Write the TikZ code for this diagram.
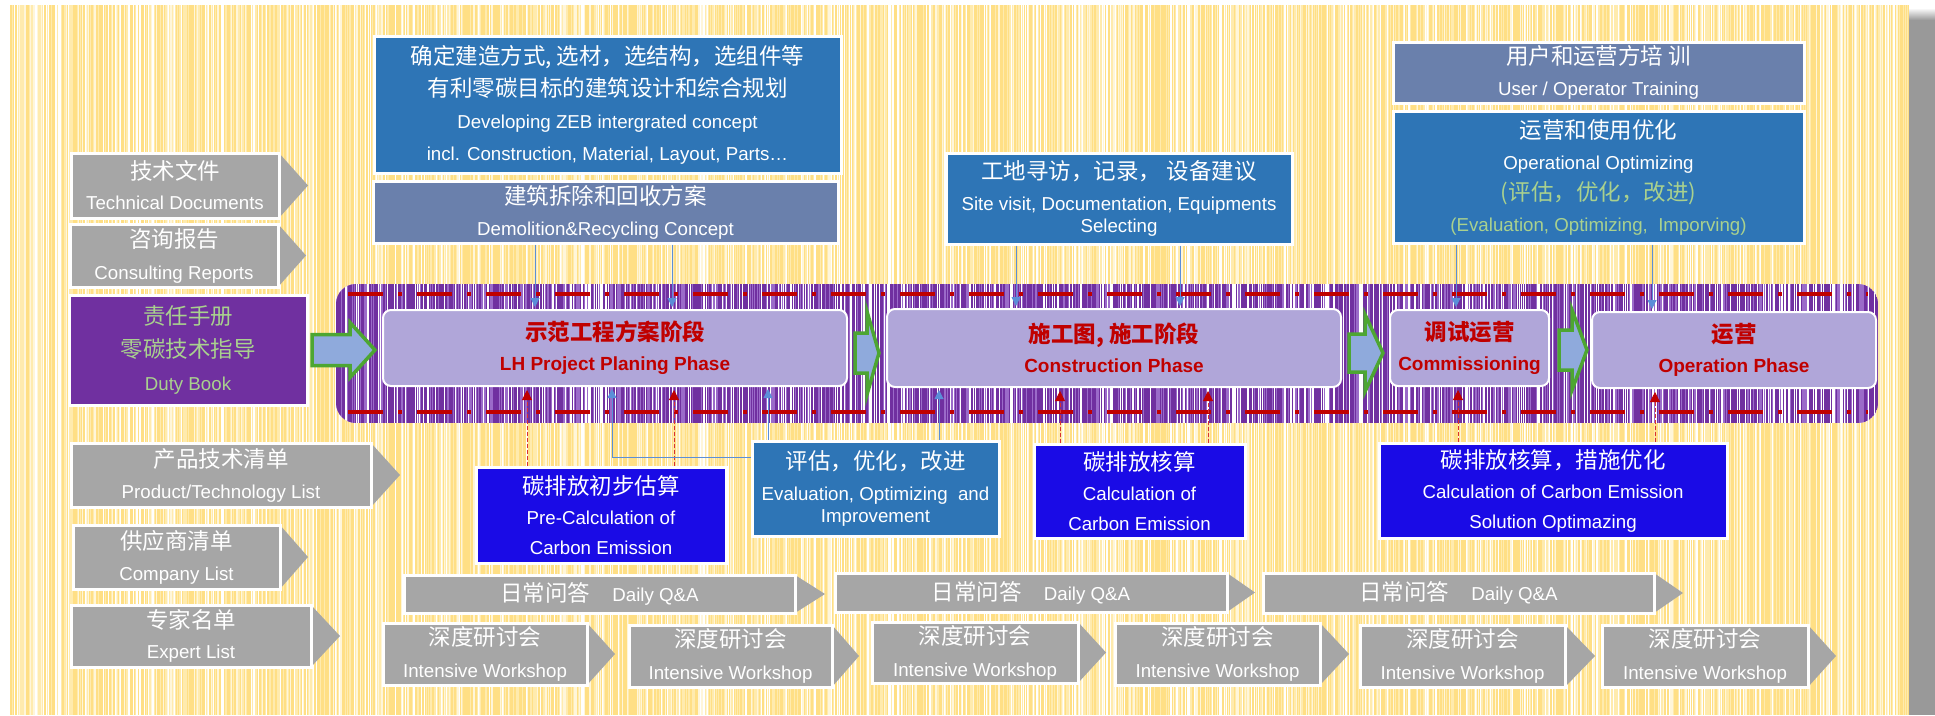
\documentclass[tikz,border=0pt]{standalone}
\usepackage{fontspec}
\setmainfont{Liberation Sans}
\newfontfamily\cjk{Noto Sans CJK SC}
\usetikzlibrary{arrows.meta,calc}

\definecolor{bgYa}{HTML}{FFDF85}
\definecolor{bgYb}{HTML}{FFEBAE}
\definecolor{bgYc}{HTML}{FFF6DA}
\definecolor{greyc}{HTML}{A6A6A6}
\definecolor{blueA}{HTML}{2E75B6}
\definecolor{slate}{HTML}{6A80AC}
\definecolor{deepB}{HTML}{1A0BE6}
\definecolor{phaseF}{HTML}{B0A6D9}
\definecolor{purp}{HTML}{7030A0}
\definecolor{purpM}{HTML}{9B6BC9}
\definecolor{purpL}{HTML}{C7AEE3}
\definecolor{redD}{HTML}{C00000}
\definecolor{redL}{HTML}{D83030}
\definecolor{greenT}{HTML}{A9D18E}
\definecolor{arrF}{HTML}{8FAADC}
\definecolor{arrG}{HTML}{4DA632}
\definecolor{connB}{HTML}{5B8ED8}
\definecolor{shadowc}{HTML}{999999}

\newcommand{\zh}[1]{{\cjk\fontsize{22.5}{27}\selectfont #1}}
% box by corners: style, name, x1, y1, x2, y2, text
\newcommand{\rbox}[7]{%
  \node[#1, minimum width={#5-#3}, minimum height={#6-#4}] (#2) at ({(#3+#5)/2},{(#4+#6)/2}) {#7};}
% grey chevron: style, name, x1, y1, x2, y2, tip, text
\newcommand{\chev}[8]{%
  \fill[greyc] (#5,#4) -- (#7,{(#4+#6)/2}) -- (#5,#6) -- cycle;
  \rbox{#1}{#2}{#3}{#4}{#5}{#6}{#8}}
% block arrow: x0, xhead, xtip, cy, shaft half, head half
\newcommand{\barrow}[6]{%
  \draw[blockarr] (#1,{#4-#5}) -- (#2,{#4-#5}) -- (#2,{#4-#6}) -- (#3,#4) -- (#2,{#4+#6}) -- (#2,{#4+#5}) -- (#1,{#4+#5}) -- cycle;}

\tikzset{
  ls/.style={font=\fontsize{18.7}{#1}\selectfont},
  box/.style={draw=white, line width=3pt, inner sep=0pt, align=center, text=white},
  gbox/.style={box, fill=greyc},
  bbox/.style={box, fill=blueA},
  sbox/.style={box, fill=slate},
  dbox/.style={box, fill=deepB},
  dutybox/.style={box, fill=purp, text=greenT},
  phase/.style={draw=white, line width=2pt, rounded corners=8pt, fill=phaseF, inner sep=0pt,
    align=center, text=redD, font=\bfseries\fontsize{19}{30}\selectfont},
  blockarr/.style={draw=arrG, line width=3.5pt, fill=arrF, line join=miter},
  bconn/.style={draw=connB, line width=1pt, -{Triangle[width=9pt,length=9pt,color=connB]}, shorten >=2pt},
  rconn/.style={draw=redL, line width=0.9pt, dash pattern=on 4pt off 2pt,
    -{Triangle[width=10pt,length=10pt,color=redD]}, shorten >=3pt},
  dashline/.style={draw=redD, line width=3.5pt, dash pattern=on 35pt off 15pt on 4pt off 15pt},
}

\begin{document}
\begin{tikzpicture}[x=1pt,y=-1pt]
\useasboundingbox (0,0) rectangle (1935,715);
\fill[white] (0,0) rectangle (1935,715);

% striped background (pixel-aligned 1px stripes)
\fill[bgYc] (9,5) rectangle (1909,715);
\pgfmathsetseed{12}
\foreach \i in {0,...,1899}{
  \pgfmathsetmacro{\xx}{9+\i}
  \pgfmathrandominteger{\rr}{0}{6}
  \ifcase\rr \def\cc{bgYa}\or \def\cc{bgYb}\or \def\cc{white}\or \def\cc{bgYb}\or \def\cc{bgYa}\or \def\cc{bgYc}\or \def\cc{bgYa}\fi
  \fill[color=\cc] (\xx,5) rectangle ({\xx+1},715);
}
% right shadow
\shade[top color=white, bottom color=shadowc] (1909,8) rectangle (1935,20);
\fill[shadowc] (1909,20) rectangle (1935,715);

% purple band (pixel-aligned 1px stripes)
\begin{scope}
  \clip[rounded corners=20pt] (336,284) rectangle (1878,423);
  \fill[purpL] (336,284) rectangle (1878,423);
  \pgfmathsetseed{5}
  \foreach \i in {0,...,1541}{
    \pgfmathsetmacro{\xx}{336+\i}
    \pgfmathrandominteger{\rr}{0}{7}
    \ifcase\rr \def\cc{purp}\or \def\cc{purp}\or \def\cc{purpM}\or \def\cc{white}\or \def\cc{purp}\or \def\cc{purpM}\or \def\cc{white}\or \def\cc{purp}\fi
    \fill[color=\cc] (\xx,284) rectangle ({\xx+1},423);
  }
\end{scope}
\draw[dashline] (348,294) -- (1868,294);
\draw[dashline] (348,412) -- (1868,412);

% phase boxes
\rbox{phase}{P1}{383}{310}{847}{386}{\zh{\bfseries 示范工程方案阶段}\\LH Project Planing Phase}
\rbox{phase}{P2}{887}{309}{1341}{387}{\zh{\bfseries 施工图, 施工阶段}\\Construction Phase}
\rbox{phase}{P3}{1390}{310}{1549}{386}{\zh{\bfseries 调试运营}\\Commissioning}
\rbox{phase}{P4}{1592}{312}{1876}{388}{\zh{\bfseries 运营}\\Operation Phase}

% block arrows
\barrow{312}{350}{375}{350}{15.5}{27.5}
\barrow{855}{867}{879}{353}{20}{41.5}
\barrow{1349}{1365}{1383}{353}{19}{38.5}
\barrow{1559}{1572}{1587}{350}{20}{40}

% left column
\chev{gbox,ls=30}{TD}{71}{153}{279}{218}{308}{\zh{技术文件}\\Technical Documents}
\chev{gbox,ls=32}{CR}{70}{224}{278}{287}{306}{\zh{咨询报告}\\Consulting Reports}
\rbox{dutybox,ls=33}{DB}{69}{295}{307}{405}{\zh{责任手册}\\\zh{零碳技术指导}\\Duty Book}
\chev{gbox,ls=31}{PL}{71}{443}{371}{507}{400}{\zh{产品技术清单}\\Product/Technology List}
\chev{gbox,ls=31}{CL}{73}{525}{280}{589}{308}{\zh{供应商清单}\\Company List}
\chev{gbox,ls=30}{EL}{71}{605}{311}{667}{340}{\zh{专家名单}\\Expert List}

% top boxes
\rbox{bbox,ls=32}{A}{374}{36}{841}{173}{\zh{确定建造方式, 选材，选结构，选组件等}\\\zh{有利零碳目标的建筑设计和综合规划}\\Developing ZEB intergrated concept\\incl. Construction, Material, Layout, Parts…}
\rbox{sbox,ls=31}{B}{373}{181}{838}{243}{\zh{建筑拆除和回收方案}\\Demolition\&Recycling Concept}
\rbox{bbox,ls=22}{C}{946}{153}{1292}{244}{\zh{工地寻访，记录，\ 设备建议}\\[9pt]Site visit, Documentation, Equipments\\Selecting}
\rbox{sbox,ls=31}{D}{1393}{42}{1804}{103}{\zh{用户和运营方培 训}\\User / Operator Training}
\rbox{bbox,ls=31}{E}{1393}{111}{1804}{243}{\zh{运营和使用优化}\\Operational Optimizing\\{\color{greenT}\zh{(评估，优化，改进)}}\\{\color{greenT}(Evaluation, Optimizing,\ \ Imporving)}}

% bottom boxes
\rbox{dbox,ls=30}{F}{476}{467}{726}{563}{\zh{碳排放初步估算}\\Pre-Calculation of\\Carbon Emission}
\rbox{bbox,ls=22}{G}{752}{441}{999}{536}{\zh{评估，优化，改进}\\[9pt]Evaluation, Optimizing\ \ and\\Improvement}
\rbox{dbox,ls=30}{H}{1034}{444}{1245}{538}{\zh{碳排放核算}\\Calculation of\\Carbon Emission}
\rbox{dbox,ls=30}{I}{1379}{443}{1727}{538}{\zh{碳排放核算，措施优化}\\Calculation of Carbon Emission\\Solution Optimazing}

% daily Q&A
\chev{gbox,ls=22}{Q1}{404}{575}{795}{613}{825}{\zh{日常问答}\hspace{22pt}Daily Q\&A}
\chev{gbox,ls=22}{Q2}{835}{573}{1227}{612}{1255}{\zh{日常问答}\hspace{22pt}Daily Q\&A}
\chev{gbox,ls=22}{Q3}{1263}{573}{1654}{613}{1683}{\zh{日常问答}\hspace{22pt}Daily Q\&A}

% workshops
\chev{gbox,ls=32}{W1}{383}{623}{587}{685}{615}{\zh{深度研讨会}\\Intensive Workshop}
\chev{gbox,ls=32}{W2}{629}{625}{832}{687}{859}{\zh{深度研讨会}\\Intensive Workshop}
\chev{gbox,ls=32}{W3}{872}{622}{1078}{683}{1106}{\zh{深度研讨会}\\Intensive Workshop}
\chev{gbox,ls=32}{W4}{1115}{623}{1320}{685}{1349}{\zh{深度研讨会}\\Intensive Workshop}
\chev{gbox,ls=32}{W5}{1360}{625}{1565}{687}{1595}{\zh{深度研讨会}\\Intensive Workshop}
\chev{gbox,ls=32}{W6}{1602}{625}{1808}{687}{1836}{\zh{深度研讨会}\\Intensive Workshop}

% connector x positions
\coordinate (xa) at (535,0);
\coordinate (xb) at (672,0);
\coordinate (xc) at (1016,0);
\coordinate (xd) at (1180,0);
\coordinate (xe) at (1456,0);
\coordinate (xf) at (1652,0);
\coordinate (xg) at (527,0);
\coordinate (xh) at (674,0);
\coordinate (xi) at (1060,0);
\coordinate (xj) at (1208,0);
\coordinate (xk) at (1458,0);
\coordinate (xl) at (1655,0);
\coordinate (xm) at (612,0);
\coordinate (xn) at (768,0);
\coordinate (xo) at (939,0);
\coordinate (yL) at (0,457);

% top connectors
\draw[bconn] (xa |- B.south) -- (xa |- P1.north);
\draw[bconn] (xb |- B.south) -- (xb |- P1.north);
\draw[bconn] (xc |- C.south) -- (xc |- P2.north);
\draw[bconn] (xd |- C.south) -- (xd |- P2.north);
\draw[bconn] (xe |- E.south) -- (xe |- P3.north);
\draw[bconn] (xf |- E.south) -- (xf |- P4.north);

% bottom connectors
\draw[rconn] (xg |- F.north) -- (xg |- P1.south);
\draw[rconn] (xh |- F.north) -- (xh |- P1.south);
\draw[rconn] (xi |- H.north) -- (xi |- P2.south);
\draw[rconn] (xj |- H.north) -- (xj |- P2.south);
\draw[rconn] (xk |- I.north) -- (xk |- P3.south);
\draw[rconn] (xl |- I.north) -- (xl |- P4.south);
\draw[bconn] (G.west |- yL) -| (xm |- P1.south);
\draw[bconn] (xn |- G.north) -- (xn |- P1.south);
\draw[bconn] (xo |- G.north) -- (xo |- P2.south);
\end{tikzpicture}
\end{document}
